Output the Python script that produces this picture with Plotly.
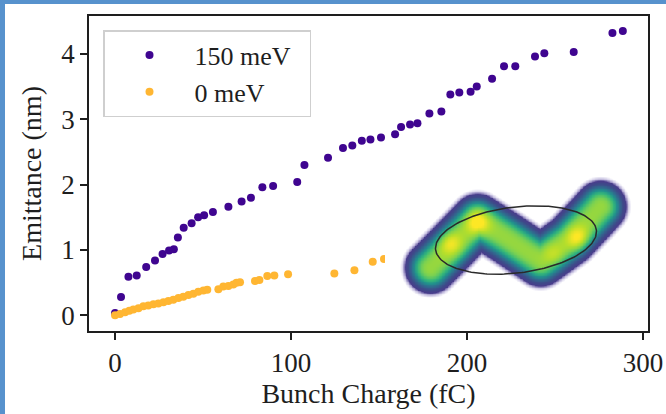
import numpy as np
import plotly.graph_objects as go

# ---------------- data ----------------
charge_150 = [0.0, 3.4, 7.6, 12.3, 17.7, 22.7, 27.0, 30.7, 33.4, 35.7, 39.0, 43.5, 47.2, 50.6,
              55.6, 64.4, 71.9, 77.2, 83.7, 89.8, 103.5, 107.6, 121.0, 129.5, 134.8, 140.2,
              145.1, 151.1, 159.1, 162.5, 167.6, 171.8, 178.6, 185.4, 190.5, 195.6, 202.0,
              205.5, 214.2, 221.0, 227.4, 238.6, 243.9, 260.6, 282.6, 288.5]
emit_150 = [0.035, 0.28, 0.59, 0.61, 0.74, 0.84, 0.94, 0.99, 1.01, 1.19, 1.34, 1.41, 1.50, 1.53,
            1.58, 1.66, 1.74, 1.80, 1.96, 1.98, 2.04, 2.30, 2.41, 2.56, 2.60, 2.67,
            2.69, 2.72, 2.77, 2.88, 2.92, 2.94, 3.09, 3.12, 3.38, 3.41, 3.42,
            3.50, 3.62, 3.81, 3.81, 3.96, 4.01, 4.03, 4.32, 4.35]

charge_0 = [0.0, 2.8, 5.7, 8.1, 10.4, 13.3, 16.1, 18.9, 21.8, 24.6, 27.5, 30.3, 33.1, 36.0,
            38.8, 41.7, 44.5, 47.3, 50.2, 52.4, 58.7, 61.5, 64.4, 67.2, 69.0, 71.0, 79.5,
            82.0, 86.5, 90.5, 98.3, 124.6, 136.0, 146.4, 152.8, 157.2, 168.6]
emit_0 = [0.0, 0.02, 0.046, 0.07, 0.09, 0.11, 0.14, 0.15, 0.17, 0.18, 0.20, 0.22, 0.24, 0.265,
          0.285, 0.31, 0.33, 0.36, 0.38, 0.39, 0.40, 0.44, 0.45, 0.47, 0.50, 0.505, 0.525,
          0.54, 0.60, 0.61, 0.63, 0.64, 0.69, 0.82, 0.86, 0.89, 0.89]

series_names = ["150 meV", "0 meV"]
x_ticks = [0, 100, 200, 300]
y_ticks = [0, 1, 2, 3, 4]

# inset (phase-space density illustration), in inset pixel units
blob_u = [45, 67, 92, 122, 155, 184, 205, 215]
blob_v = [48, 70, 96, 77, 55, 76, 98, 109]
peak_u = [65, 92, 168, 192]
peak_v = [72, 93, 62, 78]
peak_w = [0.20, 0.28, 0.10, 0.24]
blob_r = 21.5
peak_sigma = 8.0
ell_center = (131, 75)
ell_axes = (81, 33)
ell_angle_deg = 7

PURPLE = "#3f0590"
ORANGE = "#ffb632"
FONT = "Liberation Serif"
INK = "#1e1e1e"
BLUE = "#5792cd"

# ---------------- figure ----------------
PX0, PY0 = 5, 4          # blue frame strips on the left and top of the page
W, H = 666 - PX0, 414 - PY0
ml, mr, mt, mb = 89 - PX0, 18, 16 - PY0, 83
pw = W - ml - mr
ph = H - mt - mb


def dom_x(px):
    return (px - PX0 - ml) / pw


def dom_y(py):
    return (H - mb - (py - PY0)) / ph


fig = go.Figure()
fig.add_trace(go.Scatter(x=charge_150, y=emit_150, mode="markers",
                         name=series_names[0] + "\u00a0\u00a0",
                         marker=dict(color=PURPLE, size=8)))
fig.add_trace(go.Scatter(x=charge_0, y=emit_0, mode="markers",
                         name=series_names[1],
                         marker=dict(color=ORANGE, size=8)))

# inset density
ix0, ix1 = 385, 645
iy0, iy1 = 160, 315
u = np.arange(0, ix1 - ix0 + 0.1, 1.5)
v = np.arange(0, iy1 - iy0 + 0.1, 1.5)
U, V = np.meshgrid(u, v)
d = np.full(U.shape, np.inf)
for i in range(len(blob_u) - 1):
    ax_, ay_ = blob_u[i], blob_v[i]
    bx, by = blob_u[i + 1], blob_v[i + 1]
    dx, dy = bx - ax_, by - ay_
    t = np.clip(((U - ax_) * dx + (V - ay_) * dy) / (dx * dx + dy * dy), 0, 1)
    d = np.minimum(d, np.hypot(U - (ax_ + t * dx), V - (ay_ + t * dy)))
z = 0.78 * np.exp(-(d / blob_r) ** 2.5)
for pu, pv, pwt in zip(peak_u, peak_v, peak_w):
    z += pwt * np.exp(-((U - pu) ** 2 + (V - pv) ** 2) / (2 * peak_sigma ** 2))
z = np.clip(z, 0, 1)

cscale = [
    [0.0, "rgba(160,150,210,0)"],
    [0.07, "rgba(160,150,210,0)"],
    [0.12, "rgba(120,105,180,0.45)"],
    [0.17, "#483d8b"],
    [0.25, "#3e4989"],
    [0.36, "#31688e"],
    [0.48, "#21918c"],
    [0.59, "#35b779"],
    [0.72, "#7ad151"],
    [0.85, "#b5de2b"],
    [1.0, "#fde725"],
]
fig.add_trace(go.Heatmap(x=u, y=v, z=z, colorscale=cscale, zmin=0, zmax=1, showscale=False,
                         zsmooth="best", xaxis="x2", yaxis="y2", hoverinfo="skip"))

th = np.linspace(0, 2 * np.pi, 200)
ang = np.deg2rad(ell_angle_deg)
ex = ell_center[0] + ell_axes[0] * np.cos(th) * np.cos(ang) - ell_axes[1] * np.sin(th) * np.sin(ang)
ey = ell_center[1] + ell_axes[0] * np.cos(th) * np.sin(ang) + ell_axes[1] * np.sin(th) * np.cos(ang)
fig.add_trace(go.Scatter(x=ex, y=ey, mode="lines", line=dict(color="#2a2a2a", width=1.5),
                         xaxis="x2", yaxis="y2", showlegend=False, hoverinfo="skip"))

axis_common = dict(showline=True, linecolor=INK, linewidth=1.5, mirror=True, ticks="outside",
                   ticklen=7, tickwidth=1.5, tickcolor=INK, showgrid=False, zeroline=False,
                   automargin=False,
                   tickfont=dict(family=FONT, size=27, color=INK))

fig.update_layout(
    width=W, height=H,
    margin=dict(l=ml, r=mr, t=mt, b=mb, autoexpand=False),
    paper_bgcolor="white", plot_bgcolor="white",
    font=dict(family=FONT, color=INK),
    xaxis=dict(range=[-14.8, 302.8], tickvals=x_ticks,
               title=dict(text="Bunch Charge (fC)", font=dict(family=FONT, size=28, color=INK), standoff=3),
               **axis_common),
    yaxis=dict(range=[-0.24, 4.58], tickvals=y_ticks,
               title=dict(text="Emittance (nm)", font=dict(family=FONT, size=28, color=INK), standoff=12),
               **axis_common),
    xaxis2=dict(domain=[dom_x(ix0), dom_x(ix1)], range=[0, ix1 - ix0], visible=False, anchor="y2"),
    yaxis2=dict(domain=[dom_y(iy1), dom_y(iy0)], range=[0, iy1 - iy0], visible=False, anchor="x2"),
    legend=dict(x=dom_x(103), y=dom_y(30), xanchor="left", yanchor="top",
                bgcolor="white", bordercolor="#cfcfcf", borderwidth=1.5,
                font=dict(family=FONT, size=26, color=INK), itemwidth=80),
    showlegend=True,
)

post = (
    "var de=document.documentElement;de.style.background='white';de.style.overflow='hidden';"
    "document.body.style.margin='0';document.body.style.padding='0';"
    "document.body.style.background='white';document.body.style.overflow='hidden';"
    "document.body.style.borderLeft='%dpx solid %s';"
    "document.body.style.borderTop='%dpx solid %s';"
    "document.body.style.width='%dpx';document.body.style.height='%dpx';"
    "var gd=document.getElementById('{plot_id}');"
    "if(gd.parentNode){gd.parentNode.style.width='%dpx';gd.parentNode.style.overflow='hidden';}"
) % (PX0, BLUE, PY0, BLUE, W, H, W)

fig.write_html("out.html", post_script=post, config={"displayModeBar": False})
